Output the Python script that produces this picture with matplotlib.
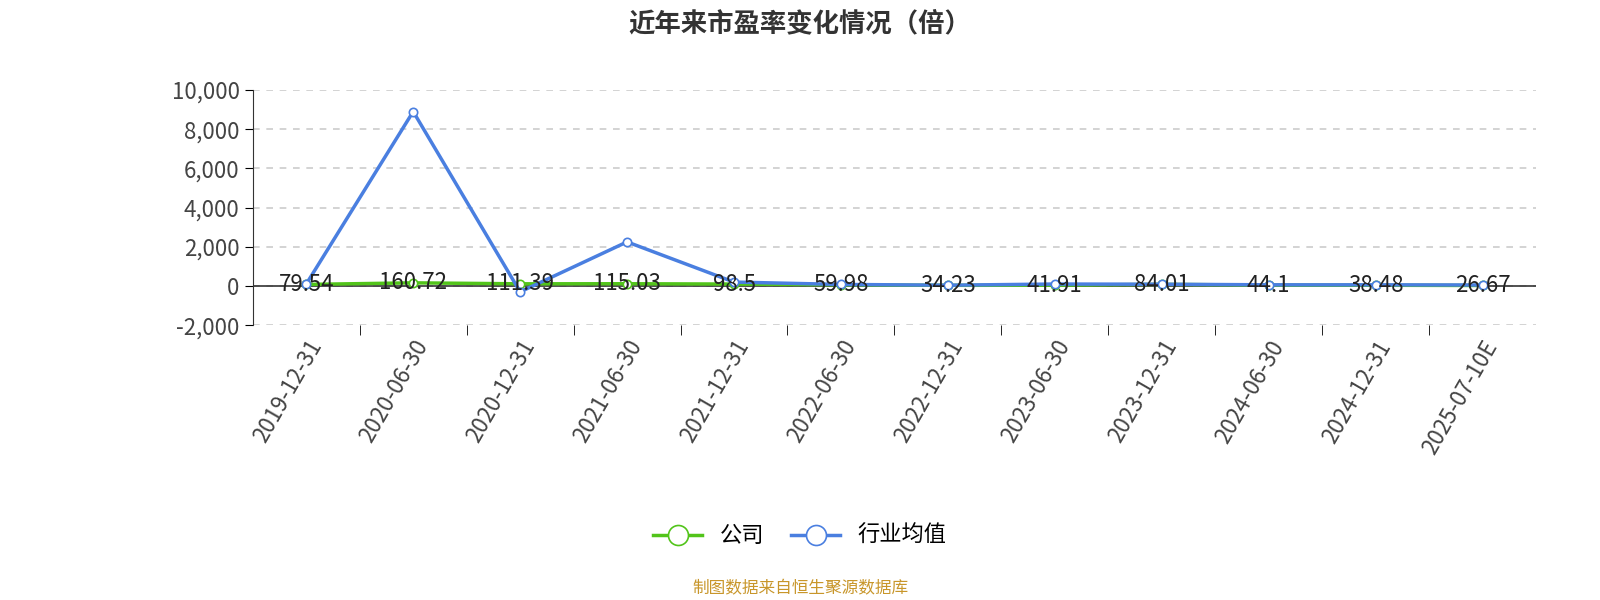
import matplotlib.pyplot as plt
from matplotlib.ticker import FuncFormatter

plt.rcParams['font.family'] = ['Noto Sans CJK SC', 'DejaVu Sans']

dates = ['2019-12-31', '2020-06-30', '2020-12-31', '2021-06-30', '2021-12-31', '2022-06-30',
         '2022-12-31', '2023-06-30', '2023-12-31', '2024-06-30', '2024-12-31', '2025-07-10E']
company = [79.54, 160.72, 111.39, 115.03, 98.5, 59.98, 34.23, 41.91, 84.01, 44.1, 38.48, 26.67]
industry = [100, 8900, -300, 2250, 200, 80, 40, 100, 90, 60, 60, 50]

fig = plt.figure(figsize=(16, 6), dpi=100)
ax = fig.add_axes([0.158, 0.458, 0.802, 0.392])
x = list(range(len(dates)))

ax.plot(x, company, color='#52c41a', lw=2.5, marker='o', ms=6, mfc='white', mew=1.2, label='公司', zorder=3)
ax.plot(x, industry, color='#4a7fe0', lw=2.5, marker='o', ms=6, mfc='white', mew=1.2, label='行业均值', zorder=4)
for xi, v in zip(x, company):
    ax.text(xi, v, f'{v:g}', ha='center', va='center', fontsize=16, color='#222222', zorder=5)

ax.set_xlim(-0.5, len(dates) - 0.5)
ax.set_ylim(-2000, 10000)
ax.set_yticks(range(-2000, 10001, 2000))
ax.yaxis.set_major_formatter(FuncFormatter(lambda v, p: f'{int(v):,}'))
ax.yaxis.grid(True, ls=(0, (4, 4)), color='#cccccc', lw=1.2)
ax.set_axisbelow(True)
ax.set_xticks(x)
ax.set_xticklabels(dates, rotation=60, ha='right', rotation_mode='anchor', fontsize=16, color='#444444')
ax.set_xticks([i + 0.5 for i in x[:-1]], minor=True)
ax.tick_params(axis='x', which='major', length=0, pad=8)
ax.tick_params(axis='x', which='minor', length=7)
ax.tick_params(axis='y', labelsize=16, labelcolor='#444444', length=6)
for s in ['top', 'right', 'bottom']:
    ax.spines[s].set_visible(False)
ax.spines['left'].set_color('#333333')
ax.axhline(0, color='#333333', lw=1.2, zorder=2)

fig.text(0.5, 0.96, '近年来市盈率变化情况（倍）', ha='center', va='center', fontsize=19, fontweight='bold', color='#333333')
fig.legend(loc='center', bbox_to_anchor=(0.5, 0.107), ncol=2, frameon=False, fontsize=16,
           handlelength=2.2, markerscale=2.4, columnspacing=1.2)
fig.text(0.5, 0.018, '制图数据来自恒生聚源数据库', ha='center', va='center', fontsize=12, color='#c8962a')

fig.savefig('out.png')
